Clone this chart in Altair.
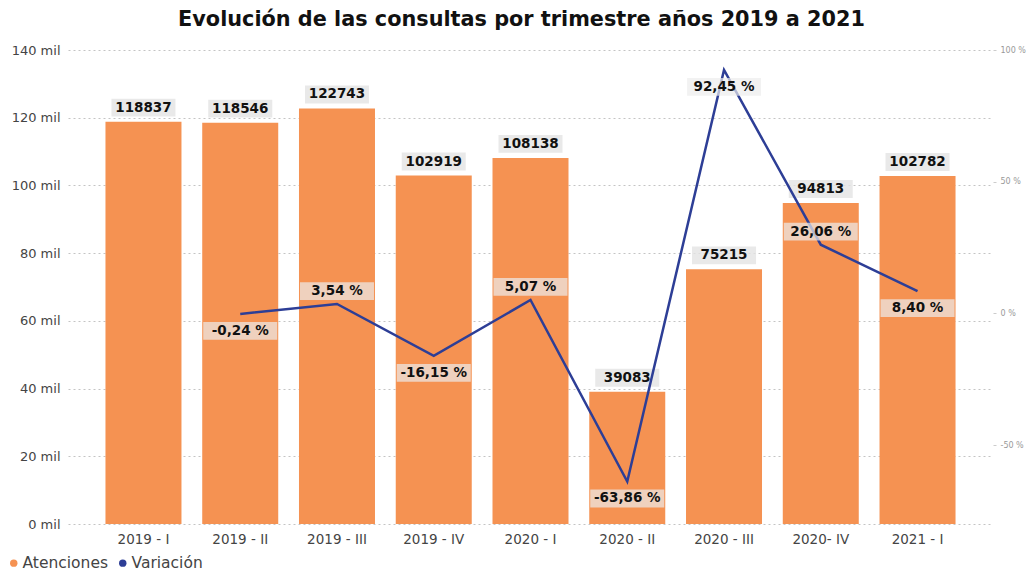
import json
import altair as alt
import pandas as pd

trimestres = ["2019 - I", "2019 - II", "2019 - III", "2019 - IV", "2020 - I",
              "2020 - II", "2020 - III", "2020- IV", "2021 - I"]
atenciones = [118837, 118546, 122743, 102919, 108138, 39083, 75215, 94813, 102782]
variacion = [None, -0.24, 3.54, -16.15, 5.07, -63.86, 92.45, 26.06, 8.40]
labels_above = ["2019 - III", "2020 - I", "2020- IV"]
left_ticks = [0, 20000, 40000, 60000, 80000, 100000, 120000, 140000]
right_ticks = [-50, 0, 50, 100]
series = ["Atenciones", "Variación"]

df = pd.DataFrame({"trimestre": trimestres, "atenciones": atenciones, "variacion": variacion})
legend_df = pd.DataFrame({"serie": series})

FONT = "DejaVu Sans"
ORANGE = "#F59252"
NAVY = "#2D3E96"
BOX_BAR = "M-1,-0.28H1V0.28H-1Z"
BOX_PCT = "M-1,-0.24H1V0.24H-1Z"

x = alt.X("trimestre:N", sort=None, title=None,
          scale=alt.Scale(paddingInner=0.22, paddingOuter=0.39),
          axis=alt.Axis(labelAngle=0, labelFontSize=13.5, labelColor="#444", labelFont=FONT,
                        ticks=False, domain=False, labelPadding=8))

legend = alt.Legend(title=None, orient="none", legendX=-62, legendY=505, direction="horizontal",
                    symbolType="circle", symbolSize=55, labelFontSize=15.5, labelColor="#444",
                    labelFont=FONT, columnPadding=6, labelOffset=1, symbolStrokeWidth=0,
                    symbolOpacity=1)

yl = alt.Y("atenciones:Q", title=None,
           scale=alt.Scale(domain=[0, 140000], nice=False),
           axis=alt.Axis(values=left_ticks, labelExpr="datum.value/1000 + ' mil'",
                         labelFontSize=13, labelColor="#444", labelFont=FONT,
                         grid=True, gridDash=[2, 3], gridColor="#c4c4c4", domain=False,
                         ticks=False, labelPadding=8))

base = alt.Chart(df)

bars = base.mark_bar(size=76, color=ORANGE).encode(x=x, y=yl)
bar_boxes = base.mark_point(shape=BOX_BAR, size=64 * 64, filled=True, fill="#e4e4e4",
                            opacity=0.8, strokeWidth=0, yOffset=-14).encode(x=x, y=yl)
bar_text = base.mark_text(font=FONT, fontSize=13.5, fontWeight="bold", color="#111",
                          dy=-14, baseline="middle").encode(
    x=x, y=yl, text=alt.Text("atenciones:Q", format="d"))

legend_layer = alt.Chart(legend_df).mark_point(filled=True, size=0, opacity=1).encode(
    x=alt.value(0), y=alt.value(0),
    color=alt.Color("serie:N", scale=alt.Scale(domain=series, range=[ORANGE, NAVY]),
                    legend=legend))

left = alt.layer(bars, bar_boxes, bar_text, legend_layer)

yr = alt.Y("variacion:Q", title=None,
           scale=alt.Scale(domain=[-80, 100], nice=False, zero=False),
           axis=alt.Axis(orient="right", values=right_ticks, labelExpr="datum.value + ' %'",
                         labelFontSize=8, labelColor="#999", labelFont=FONT, grid=False,
                         domain=False, ticks=True, tickSize=3, tickColor="#ccc",
                         labelPadding=4))

lbase = base.transform_filter("isValid(datum.variacion)").transform_calculate(
    pct="(datum.variacion < 0 ? '-' : '') + replace(format(abs(datum.variacion), '.2f'), '.', ',') + ' %'")
above_expr = "indexof(" + json.dumps(labels_above) + ", datum.trimestre) >= 0"
below_expr = "indexof(" + json.dumps(labels_above) + ", datum.trimestre) < 0"

line = lbase.mark_line(strokeWidth=2.5, color=NAVY).encode(x=x, y=yr)

def pct_labels(expr, off):
    b = lbase.transform_filter(expr)
    box = b.mark_point(shape=BOX_PCT, size=74 * 74, filled=True, fill="#ececec",
                       opacity=0.7, strokeWidth=0, yOffset=off).encode(x=x, y=yr)
    txt = b.mark_text(font=FONT, fontSize=13.5, fontWeight="bold", color="#111",
                      dy=off, baseline="middle").encode(x=x, y=yr, text="pct:N")
    return [box, txt]

right = alt.layer(line, *pct_labels(below_expr, 17), *pct_labels(above_expr, -13))

chart = alt.layer(left, right).resolve_scale(y="independent").properties(
    width=925, height=474,
    autosize=alt.AutoSizeParams(type="none"),
    padding={"left": 60, "top": 42, "right": 34, "bottom": 49},
    title=alt.TitleParams("Evolución de las consultas por trimestre años 2019 a 2021",
                          fontSize=20.8, fontWeight="bold", font=FONT, color="#111",
                          anchor="middle", dx=-9, offset=13),
).configure_view(stroke=None)

chart.save("out.html", embed_options={"renderer": "svg", "actions": False})
